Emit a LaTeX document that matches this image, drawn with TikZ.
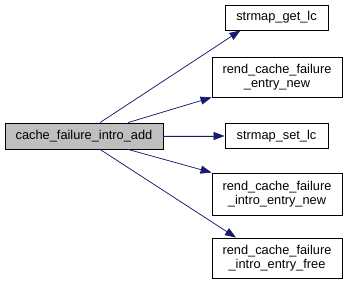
\documentclass[tikz,border=0pt]{standalone}
\usepackage{fontspec}
\setmainfont{Liberation Sans}
\usetikzlibrary{arrows.meta}

\definecolor{edgeblue}{HTML}{191970}
\definecolor{nodegray}{HTML}{BFBFBF}

\tikzset{
  fn/.style={rectangle, draw, line width=0.8pt, fill=white, align=center, inner sep=2pt,
    font=\fontsize{12.8}{13.5}\selectfont},
  call/.style={-{Triangle[length=11pt,width=8pt]}, draw=edgeblue, fill=edgeblue, line width=0.7pt}
}

\begin{document}
\begin{tikzpicture}[x=1pt, y=-1pt]
\useasboundingbox (0,0) rectangle (348,286);

% caller and callees
\node (add) [fn, fill=nodegray, minimum width=158pt, minimum height=26pt] at (84,136) {cache\_failure\_intro\_add};
\node (getlc) [fn, minimum width=103pt, minimum height=25pt] at (276.5,17.5) {strmap\_get\_lc};
\node (entrynew) [fn, minimum width=130pt, minimum height=40pt] at (277,77) {rend\_cache\_failure\\\_entry\_new};
\node (setlc) [fn, minimum width=103pt, minimum height=25pt] at (276.5,136) {strmap\_set\_lc};
\node (intronew) [fn, minimum width=130pt, minimum height=42pt] at (277,194) {rend\_cache\_failure\\\_intro\_entry\_new};
\node (introfree) [fn, minimum width=130pt, minimum height=40pt] at (277,258) {rend\_cache\_failure\\\_intro\_entry\_free};

% calls
\draw[call] ([xshift=16pt]add.north) -- ([xshift=-36pt]getlc.south);
\draw[call] ([xshift=44pt]add.north) -- (entrynew.south west);
\draw[call] (add) -- (setlc);
\draw[call] ([xshift=44pt]add.south) -- (intronew.north west);
\draw[call] ([xshift=16pt]add.south) -- ([xshift=-41pt]introfree.north);

\end{tikzpicture}
\end{document}
